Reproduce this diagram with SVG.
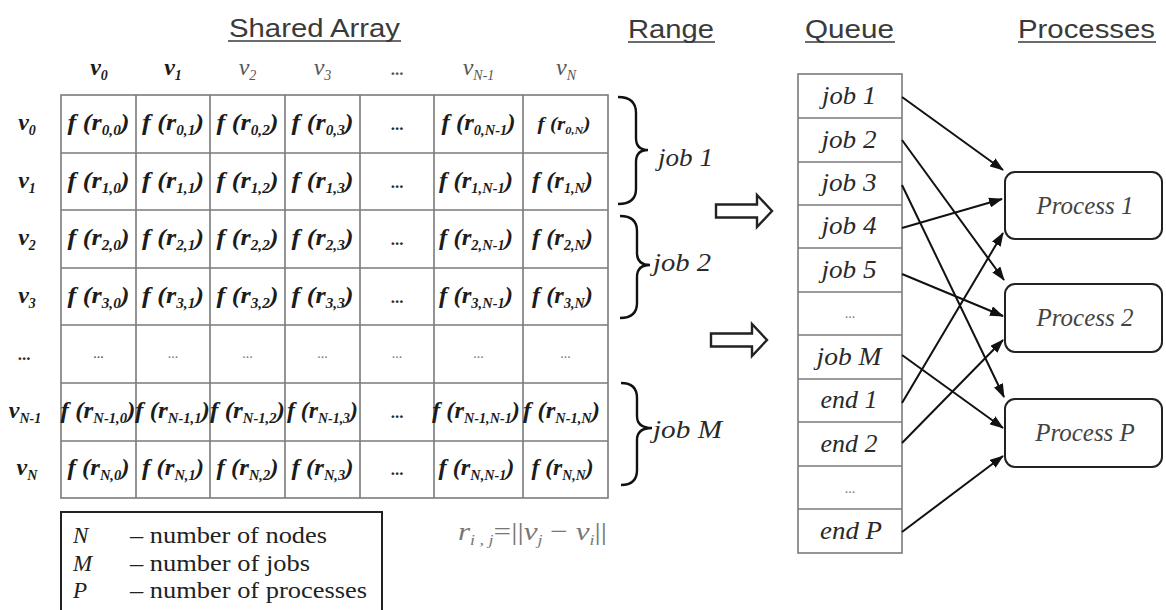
<svg xmlns="http://www.w3.org/2000/svg" width="1166" height="610" viewBox="0 0 1166 610">
  <defs>
    <style>
      .head { font-family: "Liberation Sans", Arial, sans-serif; font-size: 25px; fill: #3a3a3a; }
      .uline { stroke: #3a3a3a; stroke-width: 1.6; }
      .grid { stroke: #7b7b7b; stroke-width: 1.6; fill: none; }
      .serif { font-family: "Liberation Serif", "DejaVu Serif", "Times New Roman", serif; }
      .cell { font-weight: bold; font-style: italic; font-size: 24px; fill: #1c1c1c; text-anchor: middle; }
      .lbl { font-weight: bold; font-style: italic; font-size: 24px; fill: #1c1c1c; text-anchor: middle; }
      .lite { font-weight: normal; fill: #555; }
      .sub { font-size: 14px; }
      .dots { font-weight: bold; font-size: 17px; fill: #2a2a2a; text-anchor: middle; }
      .ldots { font-size: 14px; fill: #777; text-anchor: middle; }
      .brace { stroke: #111; stroke-width: 2.4; fill: none; }
      .it { font-style: italic; font-size: 25px; fill: #2a2a2a; }
      .q { text-anchor: middle; }
      .qbox { stroke: #7b7b7b; stroke-width: 1.6; fill: #fff; }
      .block { stroke: #222; stroke-width: 2.4; fill: #fff; stroke-linejoin: miter; }
      .proc { stroke: #222; stroke-width: 2; fill: #fff; }
      .ptxt { font-style: italic; font-size: 25px; fill: #444; text-anchor: middle; }
      .conn { stroke: #111; stroke-width: 2; fill: none; marker-end: url(#head); }
      .leg { font-size: 23px; fill: #222; }
      .formula { font-style: italic; font-size: 26px; fill: #777; }
    </style>
    <marker id="head" viewBox="0 0 14 10" refX="13" refY="5" markerWidth="14" markerHeight="10" markerUnits="userSpaceOnUse" orient="auto">
      <path d="M0,0 L14,5 L0,10 z" fill="#111"/>
    </marker>
  </defs>

  <rect width="1166" height="610" fill="#fff"/>

  <!-- column titles -->
  <g id="titles">
    <text class="head" x="229" y="37" textLength="171" lengthAdjust="spacingAndGlyphs">Shared Array</text>
    <line class="uline" x1="228" y1="41" x2="401" y2="41"/>
    <text class="head" x="628" y="38" textLength="86" lengthAdjust="spacingAndGlyphs">Range</text>
    <line class="uline" x1="628" y1="42" x2="715" y2="42"/>
    <text class="head" x="805" y="38" textLength="89" lengthAdjust="spacingAndGlyphs">Queue</text>
    <line class="uline" x1="805" y1="42" x2="895" y2="42"/>
    <text class="head" x="1018" y="38" textLength="137" lengthAdjust="spacingAndGlyphs">Processes</text>
    <line class="uline" x1="1018" y1="42" x2="1156" y2="42"/>
  </g>

  <!-- shared array -->
  <g id="shared-array" class="serif">
    <rect class="grid" x="61" y="95" width="547" height="403"/>
    <path class="grid" d="M136 95V498M210 95V498M285 95V498M360 95V498M434 95V498M523 95V498M61 153H608M61 210H608M61 268H608M61 325H608M61 383H608M61 441H608"/>

    <!-- column labels -->
    <text class="lbl" x="99" y="75">v<tspan class="sub" dy="5">0</tspan></text>
    <text class="lbl" x="173" y="75">v<tspan class="sub" dy="5">1</tspan></text>
    <text class="lbl lite" x="247.5" y="75">v<tspan class="sub" dy="5">2</tspan></text>
    <text class="lbl lite" x="322.5" y="75">v<tspan class="sub" dy="5">3</tspan></text>
    <text class="dots" x="397" y="75" style="fill:#555">...</text>
    <text class="lbl lite" x="478.5" y="75">v<tspan class="sub" dy="5">N-1</tspan></text>
    <text class="lbl lite" x="566" y="75">v<tspan class="sub" dy="5">N</tspan></text>

    <!-- row labels -->
    <text class="lbl" x="27" y="130">v<tspan class="sub" dy="5">0</tspan></text>
    <text class="lbl" x="27" y="188">v<tspan class="sub" dy="5">1</tspan></text>
    <text class="lbl" x="27" y="245">v<tspan class="sub" dy="5">2</tspan></text>
    <text class="lbl" x="27" y="303">v<tspan class="sub" dy="5">3</tspan></text>
    <text class="dots" x="24" y="360">...</text>
    <text class="lbl" x="25" y="418">v<tspan class="sub" dy="5">N-1</tspan></text>
    <text class="lbl" x="27" y="475">v<tspan class="sub" dy="5">N</tspan></text>

    <!-- row 0 -->
    <text class="cell" x="98.5" y="130" textLength="62" lengthAdjust="spacingAndGlyphs">f (r<tspan class="sub" dy="5">0,0</tspan><tspan dy="-5">)</tspan></text>
    <text class="cell" x="173" y="130" textLength="62" lengthAdjust="spacingAndGlyphs">f (r<tspan class="sub" dy="5">0,1</tspan><tspan dy="-5">)</tspan></text>
    <text class="cell" x="247.5" y="130" textLength="62" lengthAdjust="spacingAndGlyphs">f (r<tspan class="sub" dy="5">0,2</tspan><tspan dy="-5">)</tspan></text>
    <text class="cell" x="322.5" y="130" textLength="62" lengthAdjust="spacingAndGlyphs">f (r<tspan class="sub" dy="5">0,3</tspan><tspan dy="-5">)</tspan></text>
    <text class="dots" x="397" y="130">...</text>
    <text class="cell" x="478.5" y="130" textLength="74" lengthAdjust="spacingAndGlyphs">f (r<tspan class="sub" dy="5">0,N-1</tspan><tspan dy="-5">)</tspan></text>
    <text class="cell" x="564" y="130" textLength="53" lengthAdjust="spacingAndGlyphs" style="font-size:19px">f (r<tspan class="sub" dy="4" style="font-size:11px">0,N</tspan><tspan dy="-4">)</tspan></text>

    <!-- row 1 -->
    <text class="cell" x="98.5" y="188" textLength="62" lengthAdjust="spacingAndGlyphs">f (r<tspan class="sub" dy="5">1,0</tspan><tspan dy="-5">)</tspan></text>
    <text class="cell" x="173" y="188" textLength="62" lengthAdjust="spacingAndGlyphs">f (r<tspan class="sub" dy="5">1,1</tspan><tspan dy="-5">)</tspan></text>
    <text class="cell" x="247.5" y="188" textLength="62" lengthAdjust="spacingAndGlyphs">f (r<tspan class="sub" dy="5">1,2</tspan><tspan dy="-5">)</tspan></text>
    <text class="cell" x="322.5" y="188" textLength="62" lengthAdjust="spacingAndGlyphs">f (r<tspan class="sub" dy="5">1,3</tspan><tspan dy="-5">)</tspan></text>
    <text class="dots" x="397" y="188">...</text>
    <text class="cell" x="476" y="188" textLength="74" lengthAdjust="spacingAndGlyphs">f (r<tspan class="sub" dy="5">1,N-1</tspan><tspan dy="-5">)</tspan></text>
    <text class="cell" x="562.5" y="188" textLength="61" lengthAdjust="spacingAndGlyphs">f (r<tspan class="sub" dy="5">1,N</tspan><tspan dy="-5">)</tspan></text>

    <!-- row 2 -->
    <text class="cell" x="98.5" y="245" textLength="62" lengthAdjust="spacingAndGlyphs">f (r<tspan class="sub" dy="5">2,0</tspan><tspan dy="-5">)</tspan></text>
    <text class="cell" x="173" y="245" textLength="62" lengthAdjust="spacingAndGlyphs">f (r<tspan class="sub" dy="5">2,1</tspan><tspan dy="-5">)</tspan></text>
    <text class="cell" x="247.5" y="245" textLength="62" lengthAdjust="spacingAndGlyphs">f (r<tspan class="sub" dy="5">2,2</tspan><tspan dy="-5">)</tspan></text>
    <text class="cell" x="322.5" y="245" textLength="62" lengthAdjust="spacingAndGlyphs">f (r<tspan class="sub" dy="5">2,3</tspan><tspan dy="-5">)</tspan></text>
    <text class="dots" x="397" y="245">...</text>
    <text class="cell" x="476" y="245" textLength="74" lengthAdjust="spacingAndGlyphs">f (r<tspan class="sub" dy="5">2,N-1</tspan><tspan dy="-5">)</tspan></text>
    <text class="cell" x="562.5" y="245" textLength="61" lengthAdjust="spacingAndGlyphs">f (r<tspan class="sub" dy="5">2,N</tspan><tspan dy="-5">)</tspan></text>

    <!-- row 3 -->
    <text class="cell" x="98.5" y="303" textLength="62" lengthAdjust="spacingAndGlyphs">f (r<tspan class="sub" dy="5">3,0</tspan><tspan dy="-5">)</tspan></text>
    <text class="cell" x="173" y="303" textLength="62" lengthAdjust="spacingAndGlyphs">f (r<tspan class="sub" dy="5">3,1</tspan><tspan dy="-5">)</tspan></text>
    <text class="cell" x="247.5" y="303" textLength="62" lengthAdjust="spacingAndGlyphs">f (r<tspan class="sub" dy="5">3,2</tspan><tspan dy="-5">)</tspan></text>
    <text class="cell" x="322.5" y="303" textLength="62" lengthAdjust="spacingAndGlyphs">f (r<tspan class="sub" dy="5">3,3</tspan><tspan dy="-5">)</tspan></text>
    <text class="dots" x="397" y="303">...</text>
    <text class="cell" x="476" y="303" textLength="74" lengthAdjust="spacingAndGlyphs">f (r<tspan class="sub" dy="5">3,N-1</tspan><tspan dy="-5">)</tspan></text>
    <text class="cell" x="562.5" y="303" textLength="61" lengthAdjust="spacingAndGlyphs">f (r<tspan class="sub" dy="5">3,N</tspan><tspan dy="-5">)</tspan></text>

    <!-- ellipsis row -->
    <text class="ldots" x="98.5" y="358" style="fill:#444">...</text>
    <text class="ldots" x="173" y="358">...</text>
    <text class="ldots" x="247.5" y="358">...</text>
    <text class="ldots" x="322.5" y="358">...</text>
    <text class="ldots" x="397" y="358">...</text>
    <text class="ldots" x="478.5" y="358">...</text>
    <text class="ldots" x="565.5" y="358">...</text>

    <!-- row N-1 -->
    <text class="cell" x="98" y="418" textLength="75" lengthAdjust="spacingAndGlyphs">f (r<tspan class="sub" dy="5">N-1,0</tspan><tspan dy="-5">)</tspan></text>
    <text class="cell" x="172.5" y="418" textLength="75" lengthAdjust="spacingAndGlyphs">f (r<tspan class="sub" dy="5">N-1,1</tspan><tspan dy="-5">)</tspan></text>
    <text class="cell" x="247.5" y="418" textLength="75" lengthAdjust="spacingAndGlyphs">f (r<tspan class="sub" dy="5">N-1,2</tspan><tspan dy="-5">)</tspan></text>
    <text class="cell" x="322.5" y="418" textLength="71" lengthAdjust="spacingAndGlyphs">f (r<tspan class="sub" dy="5">N-1,3</tspan><tspan dy="-5">)</tspan></text>
    <text class="dots" x="397" y="418">...</text>
    <text class="cell" x="476" y="418" textLength="88" lengthAdjust="spacingAndGlyphs">f (r<tspan class="sub" dy="5">N-1,N-1</tspan><tspan dy="-5">)</tspan></text>
    <text class="cell" x="561.5" y="418" textLength="77" lengthAdjust="spacingAndGlyphs">f (r<tspan class="sub" dy="5">N-1,N</tspan><tspan dy="-5">)</tspan></text>

    <!-- row N -->
    <text class="cell" x="98.5" y="475" textLength="62" lengthAdjust="spacingAndGlyphs">f (r<tspan class="sub" dy="5">N,0</tspan><tspan dy="-5">)</tspan></text>
    <text class="cell" x="173" y="475" textLength="62" lengthAdjust="spacingAndGlyphs">f (r<tspan class="sub" dy="5">N,1</tspan><tspan dy="-5">)</tspan></text>
    <text class="cell" x="247.5" y="475" textLength="62" lengthAdjust="spacingAndGlyphs">f (r<tspan class="sub" dy="5">N,2</tspan><tspan dy="-5">)</tspan></text>
    <text class="cell" x="322.5" y="475" textLength="62" lengthAdjust="spacingAndGlyphs">f (r<tspan class="sub" dy="5">N,3</tspan><tspan dy="-5">)</tspan></text>
    <text class="dots" x="397" y="475">...</text>
    <text class="cell" x="476.5" y="475" textLength="76" lengthAdjust="spacingAndGlyphs">f (r<tspan class="sub" dy="5">N,N-1</tspan><tspan dy="-5">)</tspan></text>
    <text class="cell" x="562.5" y="475" textLength="62" lengthAdjust="spacingAndGlyphs">f (r<tspan class="sub" dy="5">N,N</tspan><tspan dy="-5">)</tspan></text>
  </g>

  <!-- row ranges grouped into jobs -->
  <g id="range-job1" class="serif">
    <path class="brace" d="M618 97 Q636 97 636 113 V138 Q636 150 648 150 Q636 150 636 162 V189 Q636 204 618 204"/>
    <text class="it" x="658" y="166" textLength="55" lengthAdjust="spacingAndGlyphs">job 1</text>
  </g>
  <g id="range-job2" class="serif">
    <path class="brace" d="M620 216 Q637 216 637 231 V253 Q637 265 650 265 Q637 265 637 277 V303 Q637 318 620 318"/>
    <text class="it" x="653" y="271" textLength="58" lengthAdjust="spacingAndGlyphs">job 2</text>
  </g>
  <g id="range-jobM" class="serif">
    <path class="brace" d="M621 383 Q637 383 637 398 V416 Q637 428 652 428 Q637 428 637 440 V470 Q637 485 621 485"/>
    <text class="it" x="653" y="438" textLength="69" lengthAdjust="spacingAndGlyphs">job M</text>
  </g>

  <!-- hollow transfer arrows -->
  <g id="transfer-arrows">
    <path class="block" d="M716 204.5 H757 V195 L772 211 L757 227 V217.5 H716 Z"/>
    <path class="block" d="M711 333.5 H752 V324 L767 340 L752 356 V346.5 H711 Z"/>
  </g>

  <!-- queue -->
  <g id="queue" class="serif">
    <rect class="qbox" x="798" y="74" width="104" height="479"/>
    <path class="grid" d="M798 118H902M798 162H902M798 205H902M798 248H902M798 292H902M798 335H902M798 379H902M798 422H902M798 466H902M798 509H902"/>
    <text class="it q" x="849" y="104" textLength="54" lengthAdjust="spacingAndGlyphs">job 1</text>
    <text class="it q" x="849" y="148" textLength="55" lengthAdjust="spacingAndGlyphs">job 2</text>
    <text class="it q" x="849" y="191" textLength="55" lengthAdjust="spacingAndGlyphs">job 3</text>
    <text class="it q" x="849" y="234" textLength="55" lengthAdjust="spacingAndGlyphs">job 4</text>
    <text class="it q" x="849" y="278" textLength="55" lengthAdjust="spacingAndGlyphs">job 5</text>
    <text class="ldots" x="850" y="318">...</text>
    <text class="it q" x="849" y="365" textLength="65" lengthAdjust="spacingAndGlyphs">job M</text>
    <text class="it q" x="849" y="408" textLength="57" lengthAdjust="spacingAndGlyphs">end 1</text>
    <text class="it q" x="849" y="452" textLength="57" lengthAdjust="spacingAndGlyphs">end 2</text>
    <text class="ldots" x="850" y="493">...</text>
    <text class="it q" x="851" y="539" textLength="62" lengthAdjust="spacingAndGlyphs">end P</text>
  </g>

  <!-- processes -->
  <g id="process-1" class="serif">
    <rect class="proc" x="1005" y="172" width="157" height="67" rx="10"/>
    <text class="ptxt" x="1085" y="214">Process 1</text>
  </g>
  <g id="process-2" class="serif">
    <rect class="proc" x="1005" y="284" width="157" height="68" rx="10"/>
    <text class="ptxt" x="1085" y="326">Process 2</text>
  </g>
  <g id="process-P" class="serif">
    <rect class="proc" x="1005" y="399" width="157" height="68" rx="10"/>
    <text class="ptxt" x="1085" y="441">Process P</text>
  </g>

  <!-- queue entries handed to processes -->
  <g id="connectors">
    <line class="conn" x1="902" y1="97" x2="1003" y2="170"/>
    <line class="conn" x1="902" y1="140" x2="1004" y2="280"/>
    <line class="conn" x1="902" y1="185" x2="1004" y2="397"/>
    <line class="conn" x1="902" y1="228" x2="1002" y2="199"/>
    <line class="conn" x1="902" y1="274" x2="1003" y2="316"/>
    <line class="conn" x1="902" y1="355" x2="1003" y2="428"/>
    <line class="conn" x1="902" y1="403" x2="1003" y2="233"/>
    <line class="conn" x1="902" y1="443" x2="1003" y2="340"/>
    <line class="conn" x1="902" y1="532" x2="1003" y2="456"/>
  </g>

  <!-- legend -->
  <g id="legend" class="serif">
    <rect x="61" y="512" width="321" height="120" fill="none" stroke="#222" stroke-width="2"/>
    <text class="leg" x="73" y="543" font-style="italic">N</text>
    <text class="leg" x="130" y="543" textLength="197" lengthAdjust="spacingAndGlyphs">– number of nodes</text>
    <text class="leg" x="73" y="571" font-style="italic">M</text>
    <text class="leg" x="130" y="571" textLength="180" lengthAdjust="spacingAndGlyphs">– number of jobs</text>
    <text class="leg" x="73" y="598" font-style="italic">P</text>
    <text class="leg" x="130" y="598" textLength="237" lengthAdjust="spacingAndGlyphs">– number of processes</text>
  </g>

  <!-- distance definition -->
  <g id="distance" class="serif">
    <text class="formula" x="458" y="540" textLength="149" lengthAdjust="spacingAndGlyphs">r<tspan class="sub" dy="5" style="font-size:15px">i , j</tspan><tspan dy="-5" font-style="normal">=||</tspan>v<tspan dy="5" style="font-size:15px">j</tspan><tspan dy="-5" font-style="normal"> − </tspan>v<tspan dy="5" style="font-size:15px">i</tspan><tspan dy="-5" font-style="normal">||</tspan></text>
  </g>
</svg>
